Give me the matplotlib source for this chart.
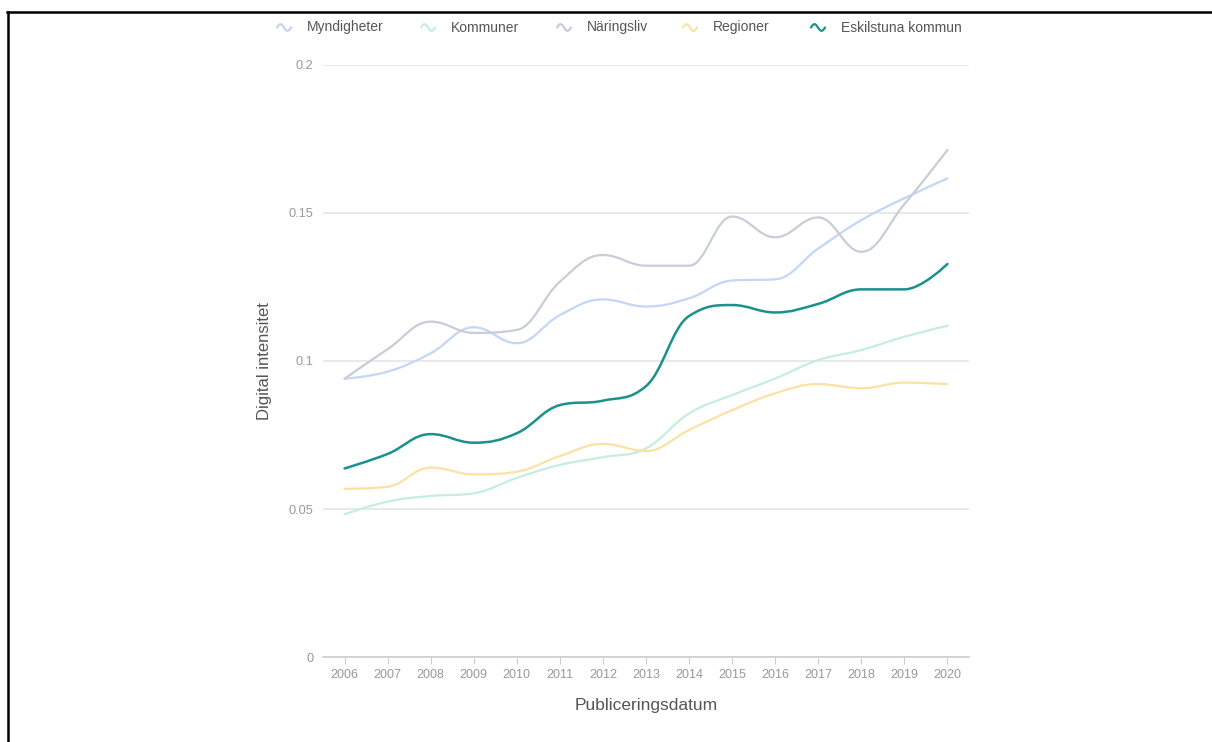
import numpy as np
import matplotlib
matplotlib.use("Agg")
import matplotlib.pyplot as plt
from matplotlib.path import Path
from matplotlib.patches import PathPatch
from matplotlib.lines import Line2D

plt.rcParams['font.family'] = ['Liberation Sans', 'DejaVu Sans']

# data
years = list(range(2006, 2021))
series_names = ["Myndigheter", "Kommuner", "Näringsliv", "Regioner", "Eskilstuna kommun"]
myndigheter = [0.094, 0.0964, 0.1026, 0.1114, 0.1060, 0.1155, 0.1208, 0.1184, 0.1212,
               0.1272, 0.1276, 0.1380, 0.1476, 0.1550, 0.1617]
kommuner = [0.0482, 0.0525, 0.0544, 0.0553, 0.0605, 0.0649, 0.0675, 0.0705, 0.0823,
            0.0885, 0.0941, 0.1003, 0.1037, 0.1082, 0.1119]
naringsliv = [0.094, 0.1040, 0.1133, 0.1095, 0.1105, 0.1268, 0.1358, 0.1322, 0.1322,
              0.1488, 0.1418, 0.1485, 0.1369, 0.1530, 0.1713]
regioner = [0.0568, 0.0575, 0.0640, 0.0617, 0.0626, 0.0679, 0.0720, 0.0696, 0.0767,
            0.0834, 0.0891, 0.0922, 0.0908, 0.0927, 0.0922]
eskilstuna = [0.0637, 0.0686, 0.0753, 0.0724, 0.0756, 0.0851, 0.0866, 0.0915, 0.1152,
              0.1189, 0.1164, 0.1193, 0.1242, 0.1242, 0.1328]
y_ticks = [0, 0.05, 0.1, 0.15, 0.2]
y_ticklabels = ["0", "0.05", "0.1", "0.15", "0.2"]

colors = ["#c3d6f6", "#c5eedc", "#c9cdd7", "#fbe2a4", "#1a918a"]
all_series = [myndigheter, kommuner, naringsliv, regioner, eskilstuna]


def spline_path(x, y, smoothing=1.5):
    # highcharts-style spline through the points
    n = len(x)
    verts = [(x[0], y[0])]
    codes = [Path.MOVETO]
    rc = [None] * n
    for i in range(1, n):
        px, py = x[i], y[i]
        lc = (px, py)
        if i < n - 1:
            lx, ly = x[i - 1], y[i - 1]
            nx, ny = x[i + 1], y[i + 1]
            d = smoothing + 1
            lcx = (smoothing * px + lx) / d
            lcy = (smoothing * py + ly) / d
            rcx = (smoothing * px + nx) / d
            rcy = (smoothing * py + ny) / d
            corr = ((rcy - lcy) * (rcx - px)) / (rcx - lcx) + py - rcy
            lcy += corr
            rcy += corr
            if lcy > ly and lcy > py:
                lcy = max(ly, py); rcy = 2 * py - lcy
            elif lcy < ly and lcy < py:
                lcy = min(ly, py); rcy = 2 * py - lcy
            if rcy > ny and rcy > py:
                rcy = max(ny, py); lcy = 2 * py - rcy
            elif rcy < ny and rcy < py:
                rcy = min(ny, py); lcy = 2 * py - rcy
            lc = (lcx, lcy)
            rc[i] = (rcx, rcy)
        prev = rc[i - 1] if rc[i - 1] is not None else (x[i - 1], y[i - 1])
        verts += [prev, lc, (px, py)]
        codes += [Path.CURVE4] * 3
    return Path(verts, codes)


fig = plt.figure(figsize=(12.12, 7.42), dpi=100)
ax = fig.add_axes([323 / 1212, 1 - 657 / 742, 646 / 1212, 592 / 742])

for vals, c in zip(all_series, colors):
    ax.add_patch(PathPatch(spline_path(years, vals), fill=False, edgecolor=c,
                           lw=1.6 if c != colors[-1] else 1.8, capstyle='round',
                           joinstyle='round', zorder=3))

ax.set_xlim(years[0] - 0.5, years[-1] + 0.5)
ax.set_ylim(0, 0.2)
ax.set_yticks(y_ticks)
ax.set_yticklabels(y_ticklabels)
ax.set_xticks(years)
ax.set_xticklabels([str(y) for y in years])
ax.grid(axis='y', color='#e3e3e3', lw=1.1)
ax.set_axisbelow(True)
for s in ['top', 'right', 'left']:
    ax.spines[s].set_visible(False)
ax.spines['bottom'].set_color('#cccccc')
ax.spines['bottom'].set_linewidth(1.1)
ax.tick_params(axis='y', length=0, pad=7, labelsize=9.2, labelcolor='#999999')
ax.tick_params(axis='x', length=5, width=0.8, color='#cccccc', pad=4,
               labelsize=9, labelcolor='#999999')
ax.set_xlabel("Publiceringsdatum", fontsize=12.5, color='#555555', labelpad=12)
ax.set_ylabel("Digital intensitet", fontsize=12, color='#555555', labelpad=12)

# legend row
leg_sym_x = [284, 428, 564, 690, 818]
leg_y = 1 - 27.5 / 742
t = np.linspace(0, 1, 30)
for name, c, sx in zip(series_names, colors, leg_sym_x):
    xs = (sx - 7 + 14 * t) / 1212
    ys = leg_y + 0.0045 * np.sin(2 * np.pi * t)
    fig.add_artist(Line2D(xs, ys, transform=fig.transFigure, color=c, lw=1.6,
                          solid_capstyle='round'))
    fig.text((sx + 23) / 1212, leg_y, name, fontsize=10, color='#555555',
             va='center', ha='left')

# frame lines of the screenshot
fig.add_artist(Line2D([7 / 1212, 1], [1 - 12 / 742] * 2, transform=fig.transFigure,
                      color='black', lw=1.8))
fig.add_artist(Line2D([7.5 / 1212] * 2, [0, 1 - 12 / 742], transform=fig.transFigure,
                      color='black', lw=1.8))

fig.savefig("out.png", dpi=100, facecolor='white')
